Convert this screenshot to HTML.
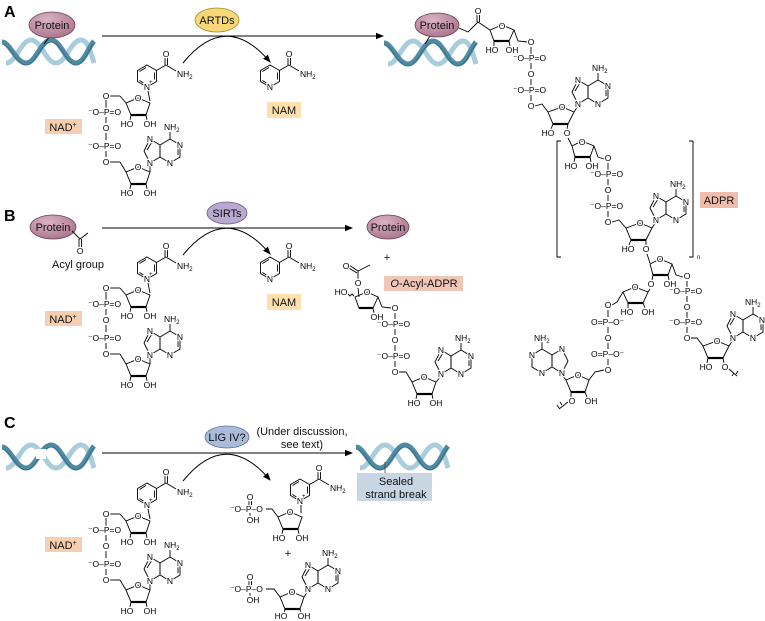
<!DOCTYPE html>
<html><head><meta charset="utf-8"><style>
html,body{margin:0;padding:0;background:#fff;}
svg{display:block;font-family:"Liberation Sans",Arial,sans-serif;}
.a{font-size:8.5px;text-anchor:middle;paint-order:stroke;stroke:#fff;stroke-width:2.5px;fill:#000;}
.s{font-size:8.5px;paint-order:stroke;stroke:#fff;stroke-width:2.5px;fill:#000;}
.l{fill:none;stroke:#000;stroke-width:0.9;}
.t{fill:none;stroke:#000;stroke-width:2.2;}
.lab{font-size:11px;text-anchor:middle;fill:#111;}
.big{font-size:16px;font-weight:bold;}
</style></head><body>
<svg width="765" height="621" viewBox="0 0 765 621" xmlns="http://www.w3.org/2000/svg">
<defs>
<radialGradient id="pg" cx="0.4" cy="0.3" r="0.8"><stop offset="0" stop-color="#d9b3c3"/><stop offset="1" stop-color="#a86f87"/></radialGradient>
<marker id="ah" markerWidth="8" markerHeight="8" refX="7" refY="4" orient="auto" markerUnits="userSpaceOnUse"><path d="M0,0.8 L8,4 L0,7.2 z" fill="#000"/></marker>
<g id="dna">
<path d="M2,25 C12,25 17,2 27,2 C37,2 42,25 52,25 C62,25 67,2 77,2 C84,2 87,15 90,25" fill="none" stroke="#a9cddc" stroke-width="5"/>
<path d="M-2,4 C6,4 12,25 22,25 C32,25 37,2 47,2 C57,2 62,25 72,25 C80,25 84,10 90,3" fill="none" stroke="#4f8aa3" stroke-width="5"/>
<path d="M-2,4 C6,4 12,25 22,25 C32,25 37,2 47,2 C57,2 62,25 72,25 C80,25 84,10 90,3" fill="none" stroke="#2f5f74" stroke-width="0.6" transform="translate(0,2)"/>
</g>
<g id="rib"><polygon class="l" points="0,-9 12,-4 8,8 -7,8 -12,-4"/><line class="t" x1="-7" y1="8" x2="8" y2="8"/></g>
<g id="ade"><polygon class="l" points="0,0 10,-6 10,-18 0,-24 -6,-12"/><polygon class="l" points="10,-6 10,-18 20,-24 30,-18 30,-6 20,0"/><line class="l" x1="20" y1="-24" x2="20" y2="-31"/><line class="l" x1="-3" y1="-13" x2="2" y2="-21"/><line class="l" x1="28" y1="-8" x2="28" y2="-16"/></g>
<g id="ader"><polygon class="l" points="0,0 -10,-6 -10,-18 0,-24 6,-12"/><polygon class="l" points="-10,-6 -10,-18 -20,-24 -30,-18 -30,-6 -20,0"/><line class="l" x1="-20" y1="-24" x2="-20" y2="-31"/></g>
<g id="pyr"><polygon class="l" points="0,-11 9.5,-5.5 9.5,5.5 0,11 -9.5,5.5 -9.5,-5.5"/><line class="l" x1="-7.5" y1="-4.5" x2="-1" y2="-8.5"/><line class="l" x1="7.5" y1="-3.5" x2="7.5" y2="3.5"/><line class="l" x1="-7.5" y1="4.5" x2="-2" y2="8"/></g>
</defs>

<!-- Labels -->
<text class="big" x="4" y="17">A</text>
<text class="big" x="4" y="221">B</text>
<text class="big" x="4" y="428">C</text>

<!-- ===== Panel A ===== -->
<use href="#dna" x="4" y="38"/>
<line class="l" x1="50" y1="36" x2="44" y2="44"/>
<ellipse cx="52" cy="25" rx="23" ry="13" fill="url(#pg)" stroke="#6b4458" stroke-width="0.8"/>
<text class="lab" x="52" y="29">Protein</text>
<ellipse cx="217" cy="20" rx="22" ry="12" fill="#f6d878" stroke="#a88a2a" stroke-width="0.8"/>
<text class="lab" x="217" y="24">ARTDs</text>
<line x1="102" y1="36" x2="383" y2="36" stroke="#000" stroke-width="1" marker-end="url(#ah)"/>

<g id="nad">
<use href="#pyr" x="147" y="76"/>
<line class="l" x1="156.5" y1="70.5" x2="166" y2="65"/>
<line class="l" x1="165" y1="65" x2="165" y2="57"/><line class="l" x1="167.5" y1="65" x2="167.5" y2="57"/>
<line class="l" x1="166" y1="65" x2="176" y2="71"/>
<text class="a" x="166" y="57">O</text>
<text class="s" x="177" y="77">NH<tspan font-size="6" dy="2">2</tspan></text>
<text class="a" x="147" y="90">N</text><text x="149" y="84" font-size="6">+</text>
<line class="l" x1="148" y1="91" x2="150" y2="101"/>
<use href="#rib" x="138" y="107"/>
<text class="a" x="138" y="101">O</text>
<line class="l" x1="131" y1="115" x2="130" y2="120"/><line class="l" x1="146" y1="115" x2="147" y2="120"/>
<text class="a" x="127" y="127">HO</text><text class="a" x="150" y="127">OH</text>
<line class="l" x1="126" y1="103" x2="120" y2="96"/><line class="l" x1="120" y1="96" x2="110" y2="96"/>
<text class="a" x="106" y="99">O</text>
<line class="l" x1="106" y1="100" x2="106" y2="108"/>
<text class="s" x="88" y="115">⁻O–P=O</text>
<line class="l" x1="106" y1="117" x2="106" y2="123"/>
<text class="a" x="106" y="131">O</text>
<line class="l" x1="106" y1="133" x2="106" y2="140"/>
<text class="s" x="88" y="149">⁻O–P=O</text>
<line class="l" x1="106" y1="151" x2="106" y2="157"/>
<text class="a" x="106" y="165">O</text>
<line class="l" x1="110" y1="162" x2="120" y2="162"/><line class="l" x1="120" y1="162" x2="126" y2="172"/>
<use href="#rib" x="138" y="176"/>
<text class="a" x="138" y="170">O</text>
<line class="l" x1="131" y1="184" x2="130" y2="189"/><line class="l" x1="146" y1="184" x2="147" y2="189"/>
<text class="a" x="127" y="196">HO</text><text class="a" x="150" y="196">OH</text>
<line class="l" x1="150" y1="172" x2="150" y2="166"/>
<use href="#ade" x="150" y="163"/>
<text class="a" x="150" y="166">N</text><text class="a" x="150" y="142">N</text>
<text class="a" x="180" y="148">N</text><text class="a" x="170" y="166">N</text>
<text class="s" x="164" y="130">NH<tspan font-size="6" dy="2">2</tspan></text>
<rect x="45" y="119" width="37" height="15" fill="#f5cfb0"/>
<text class="lab" x="63" y="131">NAD<tspan font-size="7" dy="-4">+</tspan></text>
</g>

<path d="M183,63 Q226,10 270,62" fill="none" stroke="#000" stroke-width="1" marker-end="url(#ah)"/>
<g id="nam">
<use href="#pyr" x="270" y="76"/>
<line class="l" x1="279.5" y1="70.5" x2="289" y2="65"/>
<line class="l" x1="288" y1="65" x2="288" y2="57"/><line class="l" x1="290.5" y1="65" x2="290.5" y2="57"/>
<line class="l" x1="289" y1="65" x2="299" y2="71"/>
<text class="a" x="289" y="57">O</text>
<text class="s" x="300" y="77">NH<tspan font-size="6" dy="2">2</tspan></text>
<text class="a" x="270" y="90">N</text>
<rect x="267" y="102" width="34" height="16" fill="#fde0ae"/>
<text class="lab" x="284" y="114">NAM</text>
</g>

<!-- Polymer right -->
<use href="#dna" x="386" y="39"/>
<line class="l" x1="430" y1="36" x2="425" y2="44"/>
<ellipse cx="437" cy="25" rx="22" ry="12" fill="url(#pg)" stroke="#6b4458" stroke-width="0.8"/>
<text class="lab" x="437" y="29">Protein</text>
<path class="l" d="M459,28 L468,32 L478,22 L490,30"/>
<line class="l" x1="477" y1="22" x2="477" y2="15"/><line class="l" x1="479.5" y1="22" x2="479.5" y2="15"/>
<text class="a" x="478" y="14">O</text>
<polygon class="l" points="502,25 514,30 509,41 494,41 490,30"/><line class="t" x1="494" y1="41" x2="509" y2="41"/>
<text class="a" x="502" y="29">O</text>
<line class="l" x1="494" y1="41" x2="494" y2="46"/><line class="l" x1="509" y1="41" x2="510" y2="46"/>
<text class="a" x="492" y="53">HO</text><text class="a" x="512" y="53">OH</text>
<path class="l" d="M514,30 L518,41 L527,42"/>
<text class="a" x="531" y="45">O</text>
<line class="l" x1="531" y1="47" x2="531" y2="54"/>
<text class="s" x="513" y="61">⁻O–P=O</text>
<line class="l" x1="531" y1="63" x2="531" y2="69"/>
<text class="a" x="531" y="77">O</text>
<line class="l" x1="531" y1="79" x2="531" y2="85"/>
<text class="s" x="513" y="93">⁻O–P=O</text>
<line class="l" x1="531" y1="95" x2="531" y2="101"/>
<text class="a" x="531" y="109">O</text>
<path class="l" d="M535,106 L542,104 L548,112"/>
<polygon class="l" points="562,107 574,112 568,124 553,124 548,112"/><line class="t" x1="553" y1="124" x2="568" y2="124"/>
<text class="a" x="562" y="110">O</text>
<line class="l" x1="574" y1="112" x2="578" y2="106"/>
<use href="#ade" x="578" y="104"/>
<text class="a" x="578" y="107">N</text><text class="a" x="578" y="83">N</text><text class="a" x="608" y="89">N</text><text class="a" x="598" y="107">N</text>
<text class="s" x="592" y="71">NH<tspan font-size="6" dy="2">2</tspan></text>
<line class="l" x1="553" y1="124" x2="551" y2="129"/><line class="l" x1="568" y1="124" x2="567" y2="129"/>
<text class="a" x="548" y="136">HO</text><text class="a" x="567" y="136">O</text>
<line class="l" x1="568" y1="138" x2="572" y2="146"/>
<polygon class="l" points="582,141 594,146 590,157 575,157 572,146"/><line class="t" x1="575" y1="157" x2="590" y2="157"/>
<text class="a" x="582" y="145">O</text>
<line class="l" x1="575" y1="157" x2="574" y2="162"/><line class="l" x1="590" y1="157" x2="591" y2="162"/>
<text class="a" x="571" y="169">HO</text><text class="a" x="592" y="169">OH</text>
<path class="l" d="M594,146 L598,157 L604,159"/>
<text class="a" x="608" y="161">O</text>
<line class="l" x1="608" y1="163" x2="608" y2="170"/>
<text class="s" x="590" y="177">⁻O–P=O</text>
<line class="l" x1="608" y1="179" x2="608" y2="185"/>
<text class="a" x="608" y="193">O</text>
<line class="l" x1="608" y1="195" x2="608" y2="201"/>
<text class="s" x="590" y="209">⁻O–P=O</text>
<line class="l" x1="608" y1="211" x2="608" y2="217"/>
<text class="a" x="608" y="225">O</text>
<path class="l" d="M612,222 L619,220 L626,228"/>
<polygon class="l" points="640,223 652,228 646,240 631,240 626,228"/><line class="t" x1="631" y1="240" x2="646" y2="240"/>
<text class="a" x="640" y="226">O</text>
<line class="l" x1="652" y1="228" x2="656" y2="222"/>
<use href="#ade" x="656" y="220"/>
<text class="a" x="656" y="223">N</text><text class="a" x="656" y="199">N</text><text class="a" x="686" y="205">N</text><text class="a" x="676" y="223">N</text>
<text class="s" x="670" y="187">NH<tspan font-size="6" dy="2">2</tspan></text>
<line class="l" x1="631" y1="240" x2="629" y2="245"/><line class="l" x1="646" y1="240" x2="646" y2="245"/>
<text class="a" x="628" y="252">HO</text><text class="a" x="646" y="252">O</text>
<path class="l" d="M561,141 H557 V257 H561"/><path class="l" d="M689,141 H693 V257 H689"/>
<text x="697" y="259" font-size="6">n</text>
<rect x="700" y="192" width="38" height="16" fill="#eebdab"/>
<text class="lab" x="719" y="204">ADPR</text>
<line class="l" x1="647" y1="254" x2="650" y2="263"/>
<polygon class="l" points="660,259 672,264 668,275 653,275 650,264"/><line class="t" x1="653" y1="275" x2="668" y2="275"/>
<text class="a" x="660" y="262">O</text>
<line class="l" x1="668" y1="275" x2="669" y2="280"/><text class="a" x="670" y="287">OH</text>
<path class="l" d="M672,264 L676,275 L683,277"/>
<text class="a" x="687" y="279">O</text>
<line class="l" x1="687" y1="281" x2="687" y2="287"/>
<text class="s" x="669" y="294">⁻O–P=O</text>
<line class="l" x1="687" y1="296" x2="687" y2="302"/>
<text class="a" x="687" y="310">O</text>
<line class="l" x1="687" y1="312" x2="687" y2="318"/>
<text class="s" x="669" y="325">⁻O–P=O</text>
<line class="l" x1="687" y1="327" x2="687" y2="333"/>
<text class="a" x="687" y="341">O</text>
<path class="l" d="M691,338 L697,338 L703,346"/>
<polygon class="l" points="717,341 729,346 723,358 708,358 703,346"/><line class="t" x1="708" y1="358" x2="723" y2="358"/>
<text class="a" x="717" y="344">O</text>
<line class="l" x1="729" y1="346" x2="733" y2="340"/>
<use href="#ade" x="733" y="338"/>
<text class="a" x="733" y="341">N</text><text class="a" x="733" y="317">N</text><text class="a" x="762" y="323">N</text><text class="a" x="753" y="341">N</text>
<text class="s" x="745" y="305">NH<tspan font-size="6" dy="2">2</tspan></text>
<line class="l" x1="708" y1="358" x2="707" y2="363"/><line class="l" x1="723" y1="358" x2="724" y2="363"/>
<text class="a" x="706" y="370">HO</text><text class="a" x="725" y="370">O</text>
<path class="l" d="M729,369 L737,376 M734,373 l-2,3 M738,371 l-2,3"/>
<line class="l" x1="653" y1="275" x2="652" y2="280"/>
<text class="a" x="651" y="287">O</text>
<line class="l" x1="650" y1="289" x2="648" y2="292"/>
<polygon class="l" points="635,287 648,292 643,303 628,303 623,292"/><line class="t" x1="628" y1="303" x2="643" y2="303"/>
<text class="a" x="635" y="290">O</text>
<line class="l" x1="628" y1="303" x2="628" y2="308"/><line class="l" x1="643" y1="303" x2="645" y2="308"/>
<text class="a" x="627" y="315">HO</text><text class="a" x="648" y="315">OH</text>
<path class="l" d="M623,292 L617,302 L612,305"/>
<text class="a" x="608" y="308">O</text>
<line class="l" x1="608" y1="310" x2="608" y2="317"/>
<text class="s" x="591" y="325">O=P–O⁻</text>
<line class="l" x1="608" y1="327" x2="608" y2="333"/>
<text class="a" x="608" y="341">O</text>
<line class="l" x1="608" y1="343" x2="608" y2="349"/>
<text class="s" x="591" y="357">O=P–O⁻</text>
<line class="l" x1="608" y1="359" x2="608" y2="365"/>
<text class="a" x="608" y="373">O</text>
<path class="l" d="M604,370 L595,372 L589,380"/>
<polygon class="l" points="578,375 589,380 585,392 571,392 566,380"/><line class="t" x1="571" y1="392" x2="585" y2="392"/>
<text class="a" x="578" y="378">O</text>
<line class="l" x1="566" y1="380" x2="562" y2="375"/>
<use href="#ader" x="562" y="373"/>
<text class="a" x="562" y="376">N</text><text class="a" x="562" y="352">N</text><text class="a" x="532" y="358">N</text><text class="a" x="542" y="376">N</text>
<text class="s" x="534" y="341">NH<tspan font-size="6" dy="2">2</tspan></text>
<line class="l" x1="571" y1="392" x2="571" y2="397"/><line class="l" x1="585" y1="392" x2="587" y2="397"/>
<text class="a" x="572" y="404">O</text><text class="a" x="591" y="404">OH</text>
<path class="l" d="M568,402 L559,409 M562,405 l-2,-3 M559,408 l-2,-3"/>

<!-- ===== Panel B ===== -->
<ellipse cx="227" cy="213" rx="20" ry="11" fill="#b9a8cf" stroke="#6f5e8a" stroke-width="0.8"/>
<text class="lab" x="227" y="217">SIRTs</text>
<ellipse cx="53" cy="227" rx="23" ry="12" fill="url(#pg)" stroke="#6b4458" stroke-width="0.8"/>
<text class="lab" x="53" y="231">Protein</text>
<path class="l" d="M72,231 L80,239 L88,233"/>
<line class="l" x1="79" y1="239" x2="79" y2="247"/><line class="l" x1="81.5" y1="239" x2="81.5" y2="247"/>
<text class="a" x="80" y="254">O</text>
<text class="lab" x="78" y="268" font-size="10">Acyl group</text>
<line x1="102" y1="228" x2="352" y2="228" stroke="#000" stroke-width="1" marker-end="url(#ah)"/>
<use href="#nad" y="192"/>
<path d="M183,255 Q226,202 270,254" fill="none" stroke="#000" stroke-width="1" marker-end="url(#ah)"/>
<use href="#nam" y="192"/>
<ellipse cx="388" cy="227" rx="21" ry="12" fill="url(#pg)" stroke="#6b4458" stroke-width="0.8"/>
<text class="lab" x="388" y="231">Protein</text>
<text class="lab" x="387" y="261">+</text>
<rect x="384" y="276" width="79" height="15" fill="#f0c7b6"/>
<text class="lab" x="424" y="287"><tspan font-style="italic">O</tspan>-Acyl-ADPR</text>
<line class="l" x1="358" y1="280" x2="358" y2="271"/>
<line class="l" x1="358" y1="271" x2="349" y2="265"/><line class="l" x1="357" y1="273" x2="348" y2="267.5"/>
<line class="l" x1="358" y1="271" x2="370" y2="265"/>
<text class="a" x="346" y="269">O</text>
<text class="a" x="358" y="286">O</text>
<line class="l" x1="358" y1="288" x2="359" y2="297"/>
<polygon class="l" points="367,292 378,297 373,308 359,308 355,297"/><line class="t" x1="359" y1="308" x2="373" y2="308"/>
<text class="a" x="367" y="295">O</text>
<text class="a" x="341" y="295">HO</text>
<path class="l" d="M348,294 l2,2 l2,-2 l2,2"/>
<line class="l" x1="373" y1="308" x2="374" y2="313"/><text class="a" x="377" y="320">OH</text>
<path class="l" d="M378,297 L382,307 L391,308"/>
<text class="a" x="395" y="311">O</text>
<line class="l" x1="395" y1="313" x2="395" y2="319"/>
<text class="s" x="377" y="327">⁻O–P=O</text>
<line class="l" x1="395" y1="329" x2="395" y2="335"/>
<text class="a" x="395" y="343">O</text>
<line class="l" x1="395" y1="345" x2="395" y2="351"/>
<text class="s" x="377" y="359">⁻O–P=O</text>
<line class="l" x1="395" y1="361" x2="395" y2="367"/>
<text class="a" x="395" y="375">O</text>
<path class="l" d="M399,372 L406,372 L412,382"/>
<use href="#rib" x="424" y="386"/>
<text class="a" x="424" y="380">O</text>
<line class="l" x1="436" y1="382" x2="441" y2="376"/>
<use href="#ade" x="441" y="374"/>
<text class="a" x="441" y="377">N</text><text class="a" x="441" y="353">N</text><text class="a" x="471" y="359">N</text><text class="a" x="461" y="377">N</text>
<text class="s" x="455" y="341">NH<tspan font-size="6" dy="2">2</tspan></text>
<line class="l" x1="417" y1="394" x2="416" y2="399"/><line class="l" x1="432" y1="394" x2="433" y2="399"/>
<text class="a" x="414" y="406">HO</text><text class="a" x="436" y="406">OH</text>

<!-- ===== Panel C ===== -->
<use href="#dna" x="4" y="443"/>
<rect x="36" y="449" width="10" height="10" fill="#fff"/>
<ellipse cx="227" cy="437" rx="22" ry="11" fill="#a9bcdc" stroke="#5b6f93" stroke-width="0.8"/>
<text class="lab" x="227" y="441">LIG IV?</text>
<text class="lab" x="302" y="435" font-size="10">(Under discussion,</text>
<text class="lab" x="302" y="448" font-size="10">see text)</text>
<line x1="102" y1="453" x2="352" y2="453" stroke="#000" stroke-width="1" marker-end="url(#ah)"/>
<use href="#dna" x="358" y="443"/>
<line x1="385" y1="462" x2="385" y2="473" stroke="#444" stroke-width="0.8"/>
<rect x="357" y="473" width="75" height="28" fill="#c7d6e2"/>
<text class="lab" x="396" y="485" font-size="10.5">Sealed</text>
<text class="lab" x="396" y="498" font-size="10.5">strand break</text>
<use href="#nad" y="418"/>
<path d="M183,481 Q226,428 270,480" fill="none" stroke="#000" stroke-width="1" marker-end="url(#ah)"/>
<!-- NMN -->
<use href="#pyr" x="300" y="490"/>
<line class="l" x1="309.5" y1="484.5" x2="319" y2="479"/>
<line class="l" x1="318" y1="479" x2="318" y2="471"/><line class="l" x1="320.5" y1="479" x2="320.5" y2="471"/>
<line class="l" x1="319" y1="479" x2="329" y2="485"/>
<text class="a" x="319" y="471">O</text>
<text class="s" x="330" y="491">NH<tspan font-size="6" dy="2">2</tspan></text>
<text class="a" x="300" y="504">N</text><text x="302" y="498" font-size="6">+</text>
<line class="l" x1="301" y1="505" x2="301" y2="513"/>
<use href="#rib" x="290" y="521"/>
<text class="a" x="290" y="515">O</text>
<line class="l" x1="283" y1="529" x2="282" y2="534"/><line class="l" x1="298" y1="529" x2="299" y2="534"/>
<text class="a" x="279" y="541">HO</text><text class="a" x="302" y="541">OH</text>
<path class="l" d="M278,517 L272,509 L266,509"/>
<text class="s" x="230" y="512">⁻O–P–O</text>
<line class="l" x1="249" y1="500" x2="249" y2="505"/><line class="l" x1="251.5" y1="500" x2="251.5" y2="505"/>
<text class="a" x="250" y="500">O</text>
<line class="l" x1="250" y1="513" x2="250" y2="516"/>
<text class="a" x="253" y="523">OH</text>
<text class="lab" x="288" y="557">+</text>
<!-- AMP -->
<use href="#rib" x="292" y="601"/>
<text class="a" x="292" y="595">O</text>
<line class="l" x1="304" y1="597" x2="308" y2="591"/>
<use href="#ade" x="308" y="589"/>
<text class="a" x="308" y="592">N</text><text class="a" x="308" y="568">N</text><text class="a" x="338" y="574">N</text><text class="a" x="328" y="592">N</text>
<text class="s" x="322" y="556">NH<tspan font-size="6" dy="2">2</tspan></text>
<line class="l" x1="285" y1="609" x2="284" y2="613"/><line class="l" x1="300" y1="609" x2="301" y2="613"/>
<text class="a" x="281" y="619">HO</text><text class="a" x="304" y="619">OH</text>
<path class="l" d="M280,597 L274,589 L266,589"/>
<text class="s" x="230" y="592">⁻O–P–O</text>
<line class="l" x1="249" y1="580" x2="249" y2="585"/><line class="l" x1="251.5" y1="580" x2="251.5" y2="585"/>
<text class="a" x="250" y="580">O</text>
<line class="l" x1="250" y1="593" x2="250" y2="596"/>
<text class="a" x="253" y="603">OH</text>
</svg>
</body></html>
